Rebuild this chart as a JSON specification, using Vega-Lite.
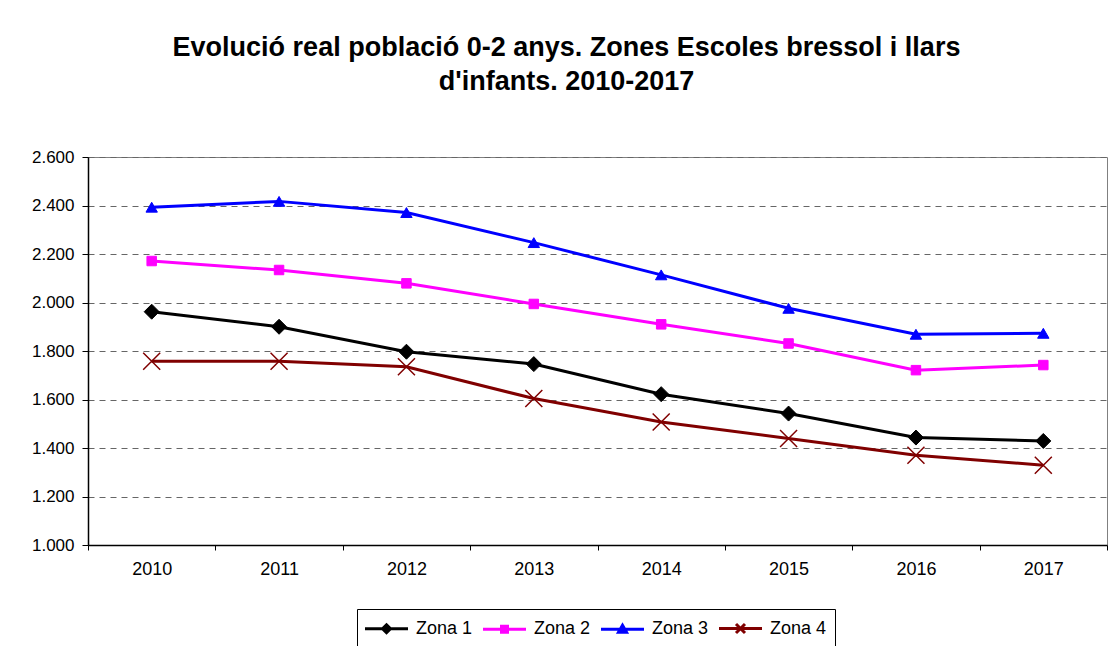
{
  "$schema": "https://vega.github.io/schema/vega-lite/v6.json",
  "width": 1019,
  "height": 388,
  "autosize": {"type": "none"},
  "padding": {"left": 88, "top": 157, "right": 4, "bottom": 101},
  "background": "white",
  "config": {
    "font": "Liberation Sans",
    "view": {"stroke": "#808080", "strokeWidth": 1}
  },
  "title": {
    "text": ["Evolució real població 0-2 anys. Zones Escoles bressol i llars", "d'infants. 2010-2017"],
    "fontSize": 27,
    "fontWeight": "bold",
    "font": "Liberation Sans",
    "color": "black",
    "anchor": "middle",
    "frame": "group",
    "dx": -31,
    "offset": 25,
    "baseline": "bottom",
    "lineHeight": 34
  },
  "data": {
    "values": [
      {"year": "2010", "zona": "Zona 1", "valor": 1962},
      {"year": "2011", "zona": "Zona 1", "valor": 1900},
      {"year": "2012", "zona": "Zona 1", "valor": 1797},
      {"year": "2013", "zona": "Zona 1", "valor": 1746},
      {"year": "2014", "zona": "Zona 1", "valor": 1622},
      {"year": "2015", "zona": "Zona 1", "valor": 1542},
      {"year": "2016", "zona": "Zona 1", "valor": 1443},
      {"year": "2017", "zona": "Zona 1", "valor": 1429},
      {"year": "2010", "zona": "Zona 2", "valor": 2171},
      {"year": "2011", "zona": "Zona 2", "valor": 2134},
      {"year": "2012", "zona": "Zona 2", "valor": 2079},
      {"year": "2013", "zona": "Zona 2", "valor": 1994},
      {"year": "2014", "zona": "Zona 2", "valor": 1910},
      {"year": "2015", "zona": "Zona 2", "valor": 1831},
      {"year": "2016", "zona": "Zona 2", "valor": 1721},
      {"year": "2017", "zona": "Zona 2", "valor": 1742},
      {"year": "2010", "zona": "Zona 3", "valor": 2393},
      {"year": "2011", "zona": "Zona 3", "valor": 2417},
      {"year": "2012", "zona": "Zona 3", "valor": 2371},
      {"year": "2013", "zona": "Zona 3", "valor": 2247},
      {"year": "2014", "zona": "Zona 3", "valor": 2114},
      {"year": "2015", "zona": "Zona 3", "valor": 1976},
      {"year": "2016", "zona": "Zona 3", "valor": 1869},
      {"year": "2017", "zona": "Zona 3", "valor": 1873},
      {"year": "2010", "zona": "Zona 4", "valor": 1758},
      {"year": "2011", "zona": "Zona 4", "valor": 1758},
      {"year": "2012", "zona": "Zona 4", "valor": 1735},
      {"year": "2013", "zona": "Zona 4", "valor": 1604},
      {"year": "2014", "zona": "Zona 4", "valor": 1507},
      {"year": "2015", "zona": "Zona 4", "valor": 1439},
      {"year": "2016", "zona": "Zona 4", "valor": 1370},
      {"year": "2017", "zona": "Zona 4", "valor": 1329}
    ]
  },
  "encoding": {
    "x": {
      "field": "year",
      "type": "ordinal",
      "title": null,
      "scale": {"type": "band", "paddingInner": 0, "paddingOuter": 0},
      "axis": {
        "labelAngle": 0,
        "labelFontSize": 18,
        "labelColor": "black",
        "labelPadding": 10,
        "domainColor": "black",
        "domainWidth": 1.5,
        "tickColor": "black",
        "tickSize": 5,
        "tickWidth": 1,
        "tickBand": "extent",
        "grid": false
      }
    },
    "y": {
      "field": "valor",
      "type": "quantitative",
      "title": null,
      "scale": {"domain": [1000, 2600], "nice": false, "zero": false},
      "axis": {
        "values": [1000, 1200, 1400, 1600, 1800, 2000, 2200, 2400, 2600],
        "labelExpr": "replace(format(datum.value, ','), ',', '.')",
        "labelFontSize": 17,
        "labelColor": "black",
        "labelPadding": 8,
        "domainColor": "black",
        "domainWidth": 1.5,
        "tickColor": "black",
        "tickSize": 6,
        "tickWidth": 1,
        "grid": true,
        "gridColor": "#666666",
        "gridDash": [6, 5],
        "gridWidth": 1
      }
    }
  },
  "layer": [
    {
      "mark": {"type": "line", "strokeWidth": 3},
      "encoding": {
        "color": {
          "field": "zona",
          "type": "nominal",
          "scale": {
            "domain": ["Zona 1", "Zona 2", "Zona 3", "Zona 4"],
            "range": ["#000000", "#FF00FF", "#0000FF", "#800000"]
          },
          "legend": {
            "title": null,
            "orient": "none",
            "legendX": 269,
            "legendY": 452,
            "direction": "horizontal",
            "columns": 4,
            "padding": 8,
            "strokeColor": "black",
            "fillColor": "white",
            "labelFontSize": 18,
            "labelColor": "black",
            "labelFont": "Liberation Sans",
            "symbolSize": 400,
            "symbolStrokeWidth": 3,
            "symbolOffset": 10,
            "labelOffset": 18,
            "columnPadding": 4,
            "encode": {
              "symbols": {
                "update": {
                  "shape": {"signal": "datum.value === 'Zona 1' ? 'M-2.15,0H2.15M0,-0.4L0.4,0L0,0.4L-0.4,0Z' : datum.value === 'Zona 2' ? 'M-2.15,0H2.15M-0.3,-0.3H0.3V0.3H-0.3Z' : datum.value === 'Zona 3' ? 'M-2.15,0H2.15M0,-0.4L0.4,0.3H-0.4Z' : 'M-2.15,0H2.15M-0.45,-0.45L0.45,0.45M-0.45,0.45L0.45,-0.45'"},
                  "fill": {"signal": "scale('color', datum.value)"},
                  "stroke": {"signal": "scale('color', datum.value)"},
                  "strokeWidth": {"value": 3},
                  "size": {"value": 400},
                  "opacity": {"value": 1}
                }
              }
            }
          }
        }
      }
    },
    {
      "transform": [{"filter": "datum.zona === 'Zona 1'"}],
      "mark": {"type": "point", "shape": "diamond", "filled": true, "color": "#000000", "stroke": "#000000", "strokeWidth": 1, "size": 225, "opacity": 1}
    },
    {
      "transform": [{"filter": "datum.zona === 'Zona 2'"}],
      "mark": {"type": "point", "shape": "square", "filled": true, "color": "#FF00FF", "stroke": "#FF00FF", "strokeWidth": 1, "size": 90, "opacity": 1}
    },
    {
      "transform": [{"filter": "datum.zona === 'Zona 3'"}],
      "mark": {"type": "point", "shape": "triangle-up", "filled": true, "color": "#0000FF", "stroke": "#0000FF", "strokeWidth": 1, "size": 130, "opacity": 1}
    },
    {
      "transform": [{"filter": "datum.zona === 'Zona 4'"}],
      "mark": {"type": "point", "shape": "M-1,-1L1,1M-1,1L1,-1", "filled": false, "stroke": "#800000", "strokeWidth": 1.5, "size": 290, "opacity": 1}
    }
  ]
}
